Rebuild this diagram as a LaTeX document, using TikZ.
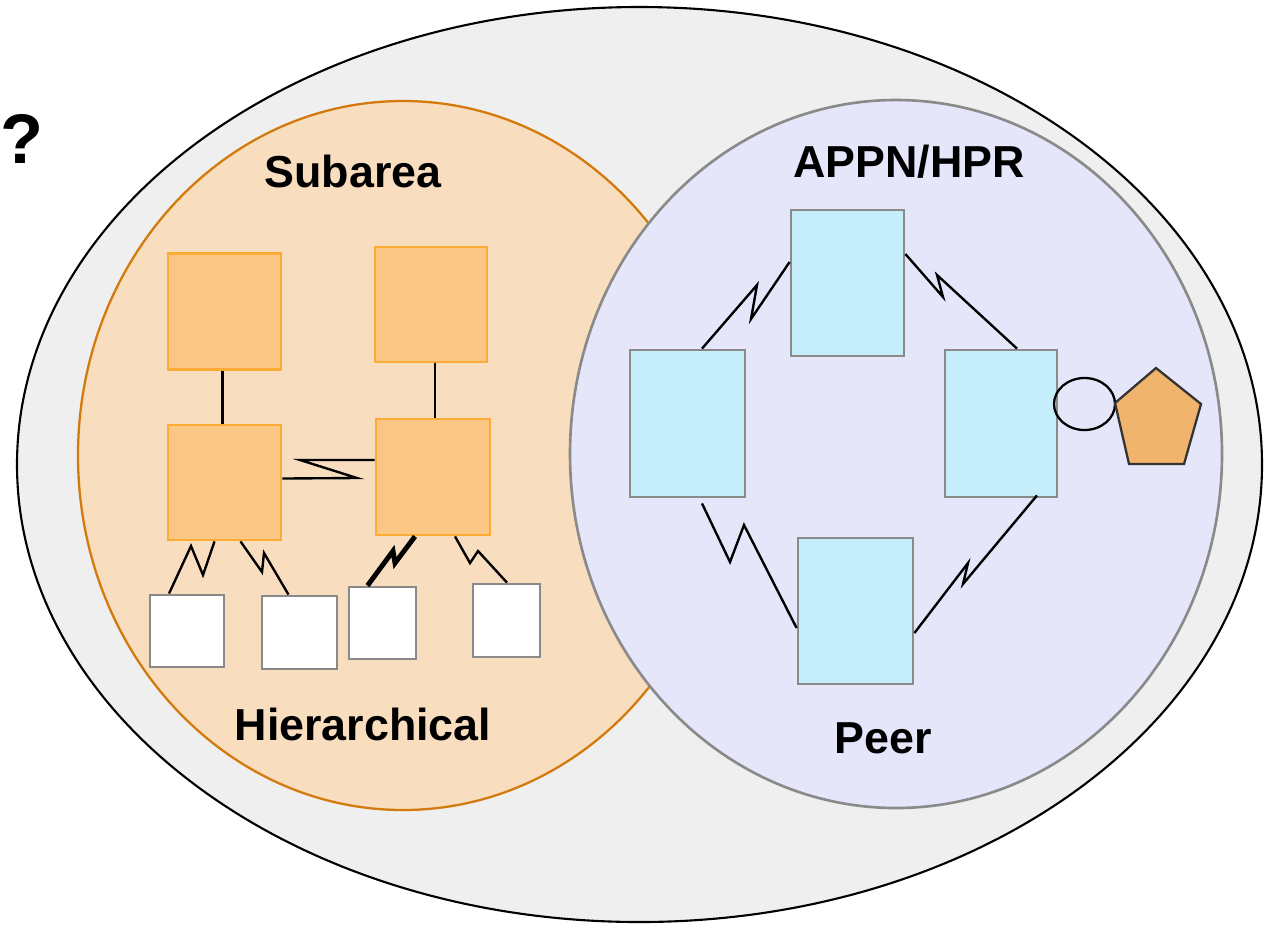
\documentclass[tikz,border=0pt]{standalone}
\usepackage{fontspec}
\setmainfont{Liberation Sans}
\usetikzlibrary{calc,shapes.geometric}
\definecolor{outerfill}{RGB}{239,239,239}
\definecolor{orfill}{RGB}{248,221,190}
\definecolor{orline}{RGB}{212,122,12}
\definecolor{blfill}{RGB}{229,230,250}
\definecolor{blline}{RGB}{138,138,138}
\definecolor{oboxfill}{RGB}{252,198,132}
\definecolor{oboxline}{RGB}{252,172,52}
\definecolor{cboxfill}{RGB}{198,238,250}
\definecolor{boxgray}{RGB}{138,138,138}
\definecolor{pentfill}{RGB}{241,180,108}
\tikzset{
  obox/.style={draw=oboxline, fill=oboxfill, line width=1.6pt, inner sep=0pt},
  wbox/.style={draw=boxgray, fill=white, line width=1.6pt, inner sep=0pt},
  cbox/.style={draw=boxgray, fill=cboxfill, line width=1.6pt, inner sep=0pt},
  link/.style={draw=black, line width=1.35pt, line join=miter},
  thicklink/.style={draw=black, line width=2.8pt, line join=miter},
  lbl/.style={font=\fontsize{25.5}{30}\selectfont\bfseries, inner sep=0pt, anchor=base},
}
\begin{document}
\begin{tikzpicture}[x=0.02cm, y=-0.02cm]
\useasboundingbox (0,0) rectangle (1266,924);
% outer ellipse
\draw[fill=outerfill, line width=1.2pt] (639.5,464.5) ellipse [x radius=622.5, y radius=457.5];
% subarea ellipse
\draw[fill=orfill, draw=orline, line width=1.3pt] (403,455.5) ellipse [x radius=325, y radius=354.5];
% APPN ellipse
\draw[fill=blfill, draw=blline, line width=1.5pt] (896,454) ellipse [x radius=326, y radius=354];

\node[lbl] (q) at (0,163) [anchor=base west, font=\fontsize{40}{48}\selectfont\bfseries] {?};
\node[lbl] (subarea) at (353,187) {Subarea};
\node[lbl] (appn) at (909,177) {APPN/HPR};
\node[lbl] (hier) at (363,740) {Hierarchical};
\node[lbl] (peer) at (883,753) {Peer};

% subarea boxes
\node[obox, minimum width={113*0.02cm}, minimum height={116*0.02cm}] (tl) at (224.5,311.5) {};
\node[obox, minimum width={112*0.02cm}, minimum height={115*0.02cm}] (tr) at (431,304.5) {};
\node[obox, minimum width={113*0.02cm}, minimum height={115*0.02cm}] (ml) at (224.5,482.5) {};
\node[obox, minimum width={114*0.02cm}, minimum height={116*0.02cm}] (mr) at (433,477) {};
\node[wbox, minimum width={74*0.02cm}, minimum height={72*0.02cm}] (w1) at (187,631) {};
\node[wbox, minimum width={75*0.02cm}, minimum height={73*0.02cm}] (w2) at (299.5,632.5) {};
\node[wbox, minimum width={67*0.02cm}, minimum height={72*0.02cm}] (w3) at (382.5,623) {};
\node[wbox, minimum width={67*0.02cm}, minimum height={73*0.02cm}] (w4) at (506.5,620.5) {};

\draw[link] ($(tl.south)+(-2,0)$) -- ($(ml.north)+(-2,0)$);
\draw[link] ($(tr.south)+(4,0)$) -- ($(mr.north)+(2,0)$);
\draw[link] ($(ml.east)+(0,-4)$) -- (357,478) -- (300,460) -- ($(mr.west)+(0,-17)$);
\draw[link] ($(ml.south)+(-10,0)$) -- (203,575) -- (191,546) -- ($(w1.north)+(-18,0)$);
\draw[link] ($(ml.south)+(16,0)$) -- (262,572) -- (264,553) -- ($(w2.north)+(-11,0)$);
\draw[thicklink] ($(mr.south)+(-18,0)$) -- (395,563) -- (393,551) -- ($(w3.north)+(-15,0)$);
\draw[link] ($(mr.south)+(22,0)$) -- (470,563) -- (478,551) -- ($(w4.north)+(0.5,0)$);

% APPN boxes
\node[cbox, minimum width={113*0.02cm}, minimum height={146*0.02cm}] (bt) at (847.5,283) {};
\node[cbox, minimum width={115*0.02cm}, minimum height={147*0.02cm}] (bl) at (687.5,423.5) {};
\node[cbox, minimum width={112*0.02cm}, minimum height={147*0.02cm}] (br) at (1001,423.5) {};
\node[cbox, minimum width={115*0.02cm}, minimum height={146*0.02cm}] (bb) at (855.5,611) {};

\draw[link] ($(bl.north)+(14.5,0)$) -- (757,285) -- (751,319) -- ($(bt.west)+(0,-21)$);
\draw[link] ($(bt.east)+(0,-29)$) -- (943,297) -- (937,275) -- ($(br.north)+(16,0)$);
\draw[link] ($(bl.south)+(14.5,5)$) -- (730,562) -- (744,525) -- ($(bb.west)+(0,17)$);
\draw[link] ($(br.south)+(36,-3)$) -- (963,584) -- (968,563) -- ($(bb.east)+(0,22)$);

% port and pentagon
\node[draw=black, line width=1.3pt, ellipse, inner sep=0pt, minimum width={61*0.02cm}, minimum height={52*0.02cm}] (port) at (1084.5,404) {};
\draw[fill=pentfill, draw=black!80, line width=1.3pt] (1156,368) -- (1201,404) -- (1184,464) -- (1129,464) -- (1115,403) -- cycle;
\end{tikzpicture}
\end{document}
